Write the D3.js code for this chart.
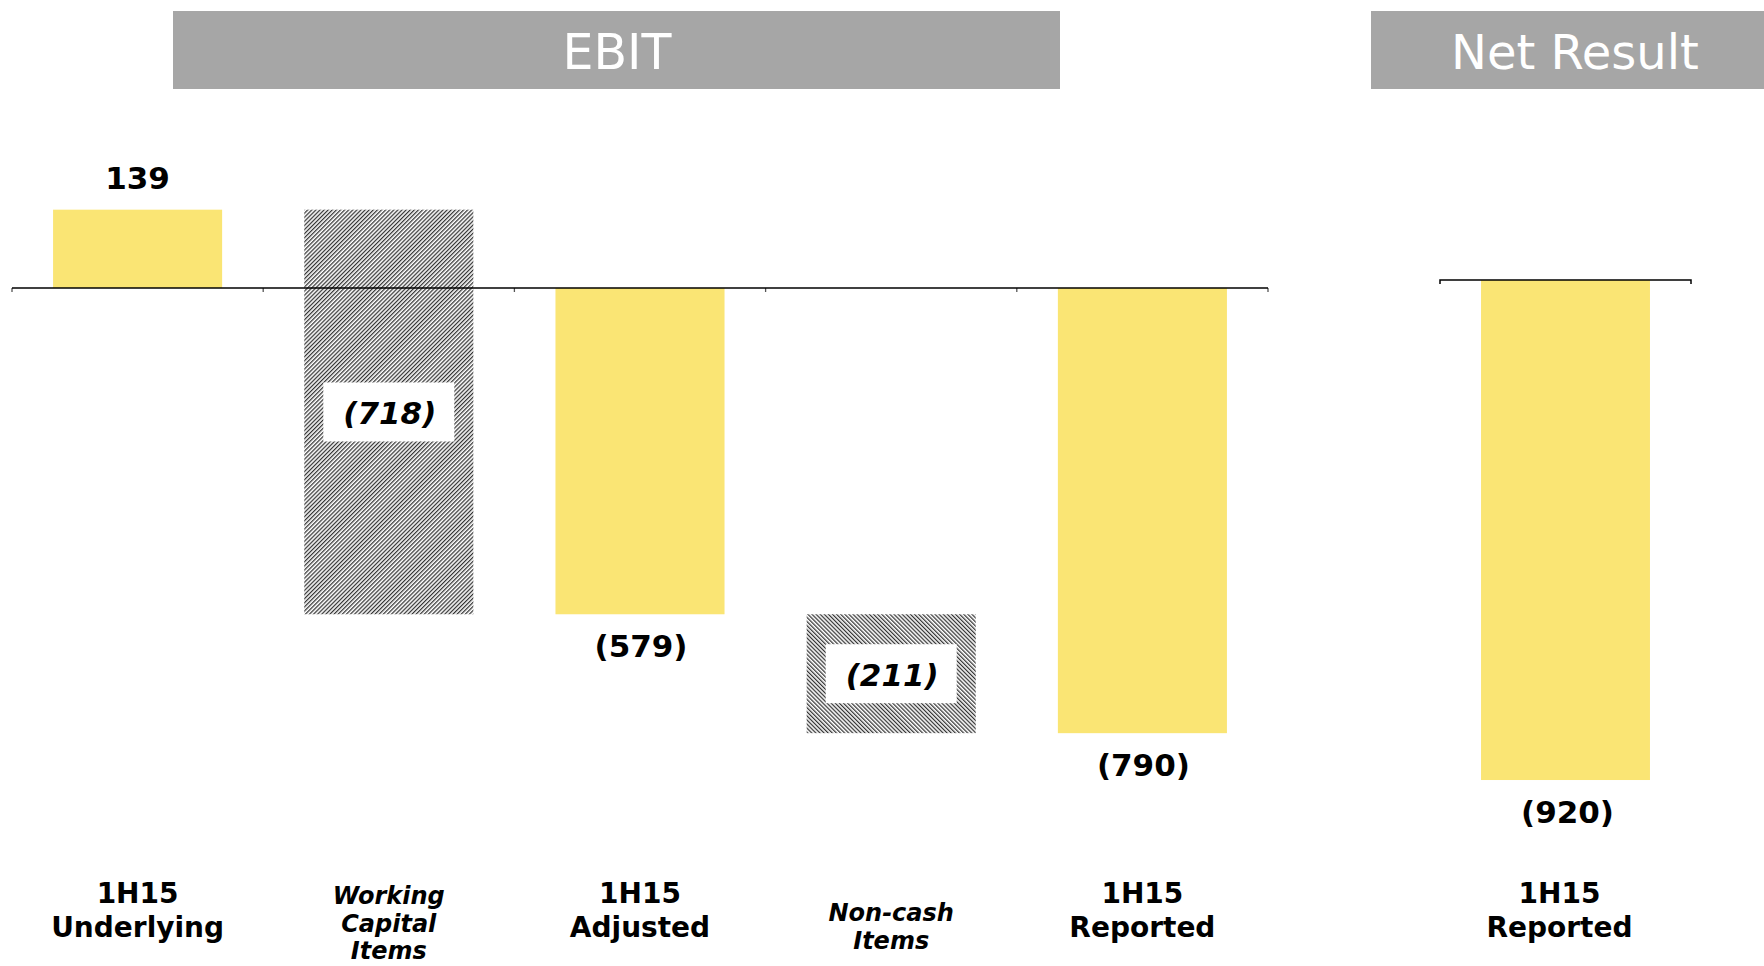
<!DOCTYPE html>
<html><head><meta charset="utf-8">
<script src="https://cdn.jsdelivr.net/npm/d3@7"></script>
<style>html,body{margin:0;padding:0;background:#fff;overflow:hidden}</style>
</head><body>
<svg id="c" width="1764" height="966"></svg>
<script>
// ---- data ----
const ebitCategories = [["1H15","Underlying"],["Working","Capital","Items"],["1H15","Adjusted"],["Non-cash","Items"],["1H15","Reported"]];
const ebitValues = [139, -718, -579, -211, -790];
const ebitTypes = ["total","delta","total","delta","total"];
const ebitLabels = ["139","(718)","(579)","(211)","(790)"];
const netCategories = [["1H15","Reported"]];
const netValues = [-920];
const netLabels = ["(920)"];
const headers = ["EBIT","Net Result"];

const YELLOW = "#FAE574", GRAY = "#A6A6A6";
const svg = d3.select("#c");
const defs = svg.append("defs");
function hatch(id, angle){
  const p = defs.append("pattern").attr("id", id).attr("patternUnits","userSpaceOnUse")
    .attr("width", 2.9).attr("height", 10).attr("patternTransform", `rotate(${angle})`);
  p.append("rect").attr("width", 2.9).attr("height", 10).attr("fill", "#fff");
  p.append("rect").attr("width", 1.25).attr("height", 10).attr("fill", "#333");
}
hatch("hatchA", 45);
hatch("hatchB", -45);

// ---- headers ----
const hdr = [{t:headers[0], x0:173, x1:1060, tx:617, fs:49},{t:headers[1], x0:1371, x1:1770, tx:1575, fs:48}];
hdr.forEach(h=>{
  svg.append("rect").attr("x",h.x0).attr("y",11).attr("width",h.x1-h.x0).attr("height",78).attr("fill",GRAY);
  svg.append("text").attr("x",h.tx).attr("y",69).attr("text-anchor","middle")
    .attr("font-family","DejaVu Sans").attr("font-size",h.fs).attr("fill","#fff").text(h.t);
});

// ---- EBIT scales ----
const pInner = 0.327;
const x = d3.scaleBand().domain(d3.range(ebitValues.length)).range([12,1268]).paddingInner(pInner).paddingOuter(pInner/2);
const y = d3.scaleLinear().domain([-1000, 300]).range([288 + 563.5, 288 - 169.05]);

// waterfall segments
let run = 0;
const segs = ebitValues.map((v,i)=>{
  let a, b;
  if (ebitTypes[i] === "total") { a = 0; b = v; run = v; }
  else { a = run; b = run + v; run = b; }
  return {i, v, a, b, type: ebitTypes[i], label: ebitLabels[i], cat: ebitCategories[i]};
});
let hatchN = 0;
segs.forEach(s=>{
  const top = y(Math.max(s.a,s.b)), bot = y(Math.min(s.a,s.b));
  const fill = s.type === "total" ? YELLOW : (hatchN++ === 0 ? "url(#hatchA)" : "url(#hatchB)");
  svg.append("rect").attr("x", x(s.i)).attr("y", top).attr("width", x.bandwidth()).attr("height", bot-top).attr("fill", fill);
  s.top = top; s.bot = bot;
});

// EBIT axis
const axisG = svg.append("g").attr("transform","translate(0,288)");
d3.range(ebitValues.length+1).forEach(k=>{
  const xx = x.range()[0] + k * x.step();
  axisG.append("line").attr("x1",xx).attr("x2",xx).attr("y1",0).attr("y2",4).attr("stroke","#555").attr("stroke-width",1.3);
});
axisG.append("line").attr("x1",x.range()[0]).attr("x2",x.range()[1]).attr("y1",0).attr("y2",0).attr("stroke","#000").attr("stroke-width",1.5);

// value labels
segs.forEach(s=>{
  const cx = x(s.i) + x.bandwidth()/2;
  if (s.type === "delta") {
    const my = (s.top + s.bot)/2;
    svg.append("rect").attr("x", cx-65.5).attr("y", my-29.5).attr("width",131).attr("height",59).attr("fill","#fff");
    svg.append("text").attr("x", cx+1).attr("y", my+12).attr("text-anchor","middle")
      .attr("font-family","DejaVu Sans").attr("font-weight","bold").attr("font-style","italic")
      .attr("font-size",31).attr("fill","#000").text(s.label);
  } else if (s.v >= 0) {
    svg.append("text").attr("x", cx).attr("y", s.top - 21).attr("text-anchor","middle")
      .attr("font-family","DejaVu Sans").attr("font-weight","bold").attr("font-size",31).attr("fill","#000").text(s.label);
  } else {
    svg.append("text").attr("x", cx+1).attr("y", s.bot + 43).attr("text-anchor","middle")
      .attr("font-family","DejaVu Sans").attr("font-weight","bold").attr("font-size",31).attr("fill","#000").text(s.label);
  }
});

// category labels
function catLabel(cx, lines, italic){
  const t = svg.append("text").attr("text-anchor","middle").attr("font-family","DejaVu Sans")
    .attr("font-weight","bold").attr("fill","#000");
  if (italic) {
    t.attr("font-style","italic").attr("font-size",24);
    const base = lines.length === 3 ? 904 : 921;
    lines.forEach((l,j)=> t.append("tspan").attr("x",cx).attr("y", base + j*27.5).text(l));
  } else {
    t.attr("font-size",28);
    lines.forEach((l,j)=> t.append("tspan").attr("x",cx).attr("y", 903 + j*34).text(l));
  }
}
segs.forEach(s=> catLabel(x(s.i)+x.bandwidth()/2, s.cat, s.type === "delta"));

// ---- Net Result ----
const xn = d3.scaleBand().domain(d3.range(netValues.length)).range([1440,1691]).paddingInner(pInner).paddingOuter(pInner/2);
const yn = d3.scaleLinear().domain([-1000, 0]).range([280 + 543.5, 280]);
netValues.forEach((v,i)=>{
  const top = yn(Math.max(0,v)), bot = yn(Math.min(0,v));
  svg.append("rect").attr("x", xn(i)).attr("y", top).attr("width", xn.bandwidth()).attr("height", bot-top).attr("fill", YELLOW);
  const cx = xn(i) + xn.bandwidth()/2;
  svg.append("text").attr("x", cx+2).attr("y", bot + 43).attr("text-anchor","middle")
    .attr("font-family","DejaVu Sans").attr("font-weight","bold").attr("font-size",31).attr("fill","#000").text(netLabels[i]);
  catLabel(cx - 6, netCategories[i], false);
});
const naxis = svg.append("g").attr("transform","translate(0,280)");
naxis.append("path").attr("d", `M${xn.range()[0]},4V0H${xn.range()[1]}V4`).attr("fill","none").attr("stroke","#000").attr("stroke-width",1.5);
</script>
</body></html>
